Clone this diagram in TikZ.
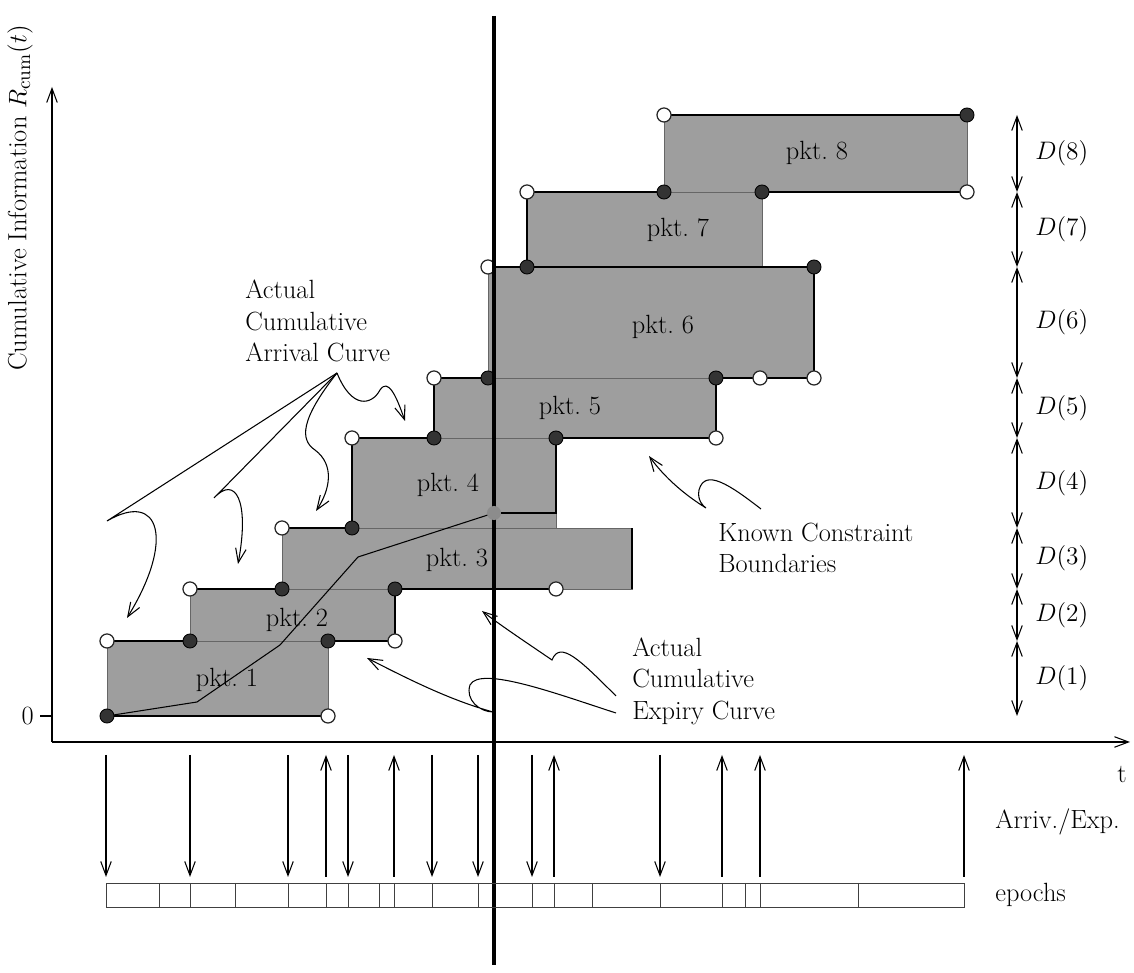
\documentclass[tikz,border=0pt]{standalone}
\usetikzlibrary{arrows.meta}
\begin{document}
\begin{tikzpicture}[x=0.2cm, y=0.2cm, >={Straight Barb[length=8pt,width=6pt]},
    font=\fontsize{15}{18}\selectfont,
    pkt/.style={fill=black!38, draw=black!60, line width=0.5pt},
    stair/.style={line width=0.9pt},
    bnd/.style={line width=1.6pt, line cap=round},
    dotfull/.style={fill=black!80, draw=black, line width=0.5pt},
    dotopen/.style={fill=white, draw=black!85, line width=0.7pt},
    note/.style={->, line width=0.6pt},
    lab/.style={align=left, anchor=west, inner sep=0pt}]
    \useasboundingbox (-5.2,-23.1) rectangle (108.2,74.2);

    % 1. 数据包矩形 (最底层)
    \foreach \a/\e/\lo/\hi/\lx/\ly/\n in {5.5/27.6/2.6/10.1/17.5/6.2/1,
            13.8/34.3/10.1/15.3/24.5/12.2/2, 23/58/15.3/21.4/40.5/18.2/3,
            30/50.4/21.4/30.4/39.6/25.7/4, 38.2/66.4/30.4/36.4/51.8/33.4/5,
            43.6/76.2/36.4/47.5/61.1/41.5/6, 47.5/71/47.5/55/62.6/51.2/7,
            61.2/91.5/55/62.7/76.5/58.9/8} {
        \filldraw[pkt] (\a,\lo) rectangle (\e,\hi);
        \node (p\n) at (\lx,\ly) {pkt.~\n};
    }

    % 2. 实际累计曲线 (细线)
    \draw[line width=0.6pt] (5.5,2.6) -- (14.5,4) -- (22.8,9.7) -- (30.6,18.5) -- (44.2,22.9);

    % 3. 阶梯边界
    \draw[stair] (5.5,2.6) -- (27.6,2.6);
    \draw[stair] (5.5,10.1) -- (13.8,10.1) (13.8,15.3) -- (23,15.3)
        (23,21.4) -- (30,21.4) -- (30,30.4) -- (38.2,30.4) -- (38.2,36.4) -- (43.6,36.4)
        (43.6,47.5) -- (47.5,47.5) -- (47.5,55) -- (61.2,55) (61.2,62.7) -- (91.5,62.7);
    \draw[stair] (34.3,10.1) -- (34.3,15.3) (58,15.3) -- (58,21.4) (66.4,30.4) -- (66.4,36.4);
    \draw[bnd] (27.6,10.1) -- (34.3,10.1) (34.3,15.3) -- (50.4,15.3);
    \draw[bnd] (44.2,22.9) -- (50.4,22.9) -- (50.4,30.4) -- (66.4,30.4);
    \draw[bnd] (66.4,36.4) -- (76.2,36.4) -- (76.2,47.5) -- (44.2,47.5);
    \draw[bnd] (71,55) -- (91.5,55);

    % 4. 端点
    \foreach \x/\y in {5.5/2.6, 13.8/10.1, 27.6/10.1, 23/15.3, 34.3/15.3, 30/21.4,
            38.2/30.4, 50.4/30.4, 43.6/36.4, 66.4/36.4, 47.5/47.5, 76.2/47.5,
            61.2/55, 71/55, 91.5/62.7}
        \filldraw[dotfull] (\x,\y) circle (4pt);
    \foreach \x/\y in {5.5/10.1, 27.6/2.6, 13.8/15.3, 34.3/10.1, 23/21.4, 50.4/15.3,
            30/30.4, 38.2/36.4, 66.4/30.4, 43.6/47.5, 70.8/36.4, 76.2/36.4,
            47.5/55, 61.2/62.7, 91.5/55}
        \filldraw[dotopen] (\x,\y) circle (4pt);

    % 5. 当前时刻
    \draw[line width=2.5pt] (44.2,72.6) -- (44.2,-22.3);
    \fill[black!45] (44.2,22.9) circle (4pt);

    % 6. 坐标轴
    \draw[->, line width=0.6pt] (0,0) -- (0,65.5);
    \draw[->, line width=0.6pt] (0,0) -- (107.8,0);
    \draw[line width=0.6pt] (-1.2,2.6) -- (0,2.6);
    \node (zero) [left] at (-1.2,2.6) {0};
    \node (tlab) at (107,-3.3) {t};
    \node (ylab) [rotate=90] at (-3.2,54.4) {Cumulative Information $R_{\mathrm{cum}}(t)$};

    % 7. 到达/过期事件与 epochs
    \foreach \t in {5.4,13.8,23.6,29.6,38,42.6,48,60.8}
        \draw[->, line width=0.6pt] (\t,-1.3) -- (\t,-13.5);
    \foreach \t in {27.4,34.2,50.2,67,70.8,91.2}
        \draw[->, line width=0.6pt] (\t,-13.5) -- (\t,-1.3);
    \draw[black!75, line width=0.5pt] (5.4,-14.1) rectangle (91.2,-16.5);
    \foreach \t in {10.7,13.8,18.3,23.6,27.4,29.6,32.7,34.2,38,42.6,48,50.2,54,60.8,67,69.3,70.8,80.6}
        \draw[black!75, line width=0.5pt] (\t,-14.1) -- (\t,-16.5);
    \node (arrexp) [right, inner sep=0pt] at (94.3,-8) {Arriv./Exp.};
    \node (epochs) [right, inner sep=0pt] at (94.3,-15.3) {epochs};

    % 8. D(k)
    \foreach \lo/\hi/\k in {2.6/10.1/1, 10.1/15.3/2, 15.3/21.4/3, 21.4/30.4/4,
            30.4/36.4/5, 36.4/47.5/6, 47.5/55/7, 55/62.7/8} {
        \draw[<->, line width=0.6pt] (96.5,\lo) -- (96.5,\hi);
        \node (d\k) [right, inner sep=0pt] at (98.3,{(\lo+\hi)/2}) {$D(\k)$};
    }

    % 9. 注释
    \node (arrlab) [lab] at (19.3,42.1) {Actual\\Cumulative\\Arrival Curve};
    \coordinate (apex) at (28.5,36.9);
    \coordinate (ta1) at (7.5,12.4);
    \coordinate (ta2) at (18.6,17.8);
    \coordinate (ta3) at (26.4,23.1);
    \coordinate (ta4) at (35.3,32.1);
    \draw[note] (apex) -- (5.5,22.1) .. controls (10.8,25.2) and (12.3,20.2) .. (ta1);
    \draw[note] (apex) -- (16.2,24.4) .. controls (18.3,26.7) and (19.8,24.2) .. (ta2);
    \draw[note] (apex) .. controls (24.8,32.2) and (24.8,30.2) .. (26.3,29.2)
        .. controls (28.3,27.7) and (27.8,25.2) .. (ta3);
    \draw[note] (apex) .. controls (30,33.2) and (32,33.7) .. (32.8,35.2)
        .. controls (33.6,36.4) and (34.4,34.7) .. (ta4);

    \node (explab) [lab] at (58,6.1) {Actual\\Cumulative\\Expiry Curve};
    \coordinate (es1) at (56.4,4.6);
    \coordinate (es2) at (56.4,2.9);
    \coordinate (te1) at (43,13.1);
    \coordinate (te2) at (31.5,8.4);
    \draw[note] (es1) .. controls (52.8,8.2) and (50.8,10.2) .. (50,8.2)
        .. controls (47.8,9.7) and (44.8,11.7) .. (te1);
    \draw[note] (es2) .. controls (50.8,4.7) and (42.8,7.7) .. (41.8,5.7)
        .. controls (41.3,4.2) and (42.8,3) .. (44.1,3)
        .. controls (39.8,4.2) and (35.8,6.2) .. (te2);

    \node (kclab) [lab] at (66.6,19.4) {Known Constraint\\Boundaries};
    \coordinate (ks) at (70.9,23.3);
    \coordinate (tk) at (59.7,28.6);
    \draw[note] (ks) .. controls (67.8,25.7) and (65.3,27.4) .. (64.7,25.2)
        .. controls (64.5,24.2) and (65.1,23.6) .. (65.4,23.4)
        .. controls (63.3,24.7) and (61.3,26.4) .. (tk);
\end{tikzpicture}
\end{document}
